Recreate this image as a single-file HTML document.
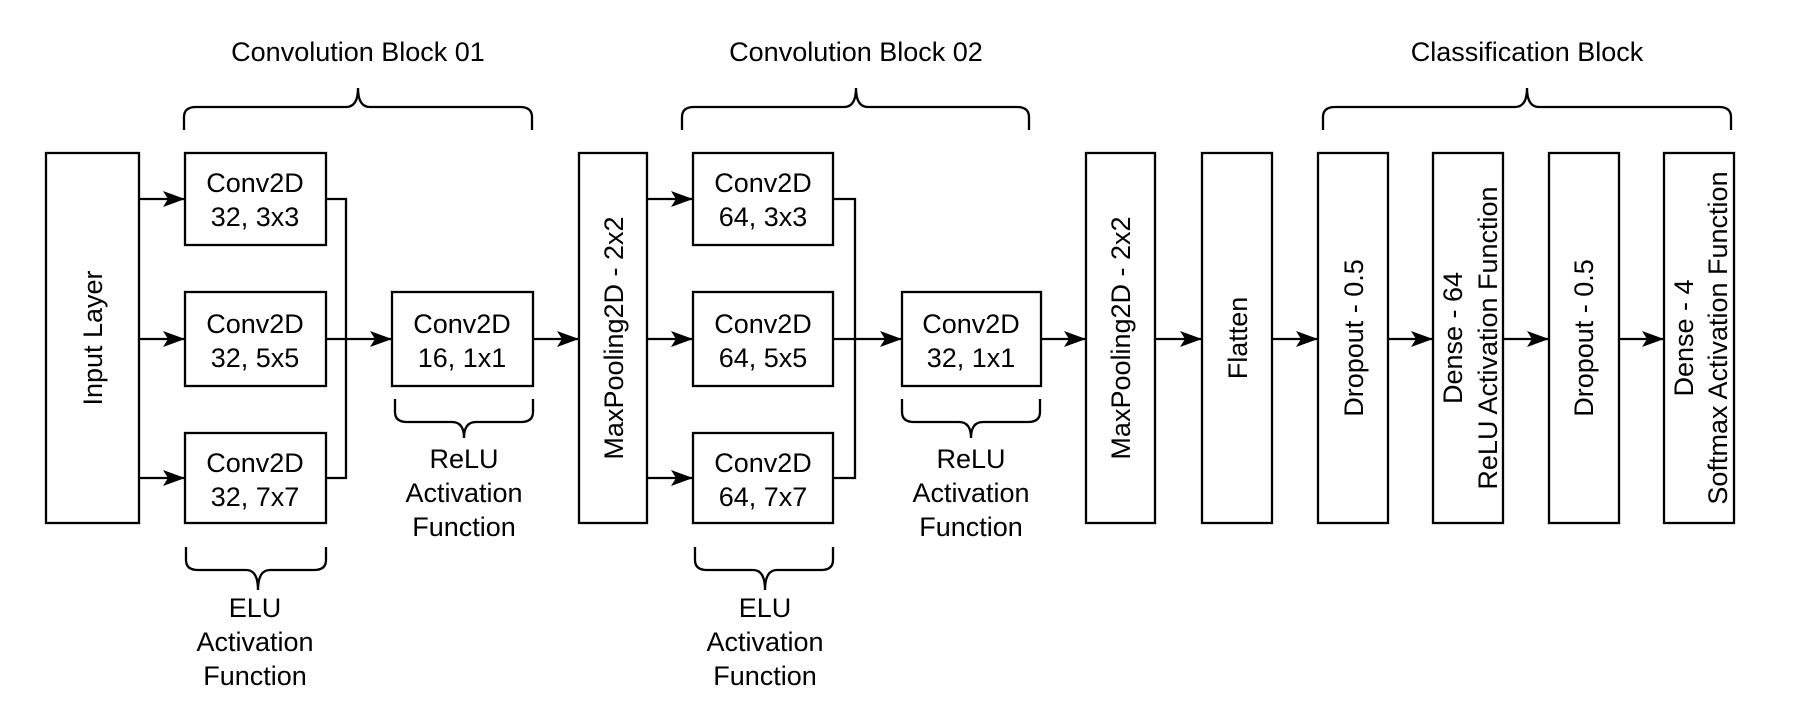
<!DOCTYPE html>
<html><head><meta charset="utf-8"><style>
html,body{margin:0;padding:0;background:#fff;}
svg{display:block;}
text{font-family:"Liberation Sans",Arial,sans-serif;fill:#000;}
</style></head><body>
<svg width="1797" height="707" viewBox="0 0 1797 707" xmlns="http://www.w3.org/2000/svg">
<defs>
<marker id="a" markerWidth="22" markerHeight="18" refX="21" refY="9" orient="auto" markerUnits="userSpaceOnUse" viewBox="0 0 22 18">
<path d="M0,1 L22,9 L0,17 L5,9 Z" fill="#000"/>
</marker>
</defs>
<g fill="none" stroke="#000" stroke-width="2.3">
<rect x="46" y="153" width="93" height="370"/>
<rect x="185" y="153" width="141" height="92"/>
<rect x="185" y="292" width="141" height="94"/>
<rect x="185" y="433" width="141" height="90"/>
<rect x="392" y="292" width="141" height="94"/>
<rect x="579" y="153" width="68" height="370"/>
<rect x="693" y="153" width="140" height="92"/>
<rect x="693" y="292" width="140" height="94"/>
<rect x="693" y="433" width="140" height="90"/>
<rect x="902" y="292" width="139" height="94"/>
<rect x="1086" y="153" width="69" height="370"/>
<rect x="1202" y="153" width="70" height="370"/>
<rect x="1318" y="153" width="70" height="370"/>
<rect x="1433" y="153" width="70" height="370"/>
<rect x="1549" y="153" width="70" height="370"/>
<rect x="1664" y="153" width="70" height="370"/>
<path d="M139,199 H184" marker-end="url(#a)"/>
<path d="M139,339 H184" marker-end="url(#a)"/>
<path d="M139,478 H184" marker-end="url(#a)"/>
<path d="M326,199 H346 V478 H326"/>
<path d="M326,339 H391" marker-end="url(#a)"/>
<path d="M533,339 H578" marker-end="url(#a)"/>
<path d="M647,199 H692" marker-end="url(#a)"/>
<path d="M647,339 H692" marker-end="url(#a)"/>
<path d="M647,478 H692" marker-end="url(#a)"/>
<path d="M833,199 H855 V478 H833"/>
<path d="M833,339 H901" marker-end="url(#a)"/>
<path d="M1041,339 H1085" marker-end="url(#a)"/>
<path d="M1155,339 H1201" marker-end="url(#a)"/>
<path d="M1272,339 H1317" marker-end="url(#a)"/>
<path d="M1388,339 H1432" marker-end="url(#a)"/>
<path d="M1503,339 H1548" marker-end="url(#a)"/>
<path d="M1619,339 H1663" marker-end="url(#a)"/>
<path d="M184,130 V117 Q184,107 196,107 H346 Q358,107 358,88 Q358,107 370,107 H520 Q532,107 532,117 V130"/>
<path d="M682,130 V117 Q682,107 694,107 H844 Q856,107 856,88 Q856,107 868,107 H1017 Q1029,107 1029,117 V130"/>
<path d="M1323,130 V117 Q1323,107 1335,107 H1515 Q1527,107 1527,88 Q1527,107 1539,107 H1719 Q1731,107 1731,117 V130"/>
<path d="M186,547 V560 Q186,570 198,570 H246 Q258,570 258,590 Q258,570 270,570 H314 Q326,570 326,560 V547"/>
<path d="M395,399 V412 Q395,422 407,422 H452 Q464,422 464,438 Q464,422 476,422 H521 Q533,422 533,412 V399"/>
<path d="M695,547 V560 Q695,570 707,570 H753 Q765,570 765,590 Q765,570 777,570 H821 Q833,570 833,560 V547"/>
<path d="M902,399 V412 Q902,422 914,422 H959 Q971,422 971,438 Q971,422 983,422 H1028 Q1040,422 1040,412 V399"/>
</g>
<g font-size="27" text-anchor="middle">
<text x="358" y="61">Convolution Block 01</text>
<text x="856" y="61">Convolution Block 02</text>
<text x="1527" y="61">Classification Block</text>
</g>
<g font-size="27" text-anchor="middle">
<text x="255" y="192">Conv2D</text><text x="255" y="226">32, 3x3</text>
<text x="255" y="333">Conv2D</text><text x="255" y="367">32, 5x5</text>
<text x="255" y="472">Conv2D</text><text x="255" y="506">32, 7x7</text>
<text x="462" y="333">Conv2D</text><text x="462" y="367">16, 1x1</text>
<text x="763" y="192">Conv2D</text><text x="763" y="226">64, 3x3</text>
<text x="763" y="333">Conv2D</text><text x="763" y="367">64, 5x5</text>
<text x="763" y="472">Conv2D</text><text x="763" y="506">64, 7x7</text>
<text x="971" y="333">Conv2D</text><text x="971" y="367">32, 1x1</text>
<text x="464" y="468">ReLU</text><text x="464" y="502">Activation</text><text x="464" y="536">Function</text>
<text x="971" y="468">ReLU</text><text x="971" y="502">Activation</text><text x="971" y="536">Function</text>
<text x="255" y="617">ELU</text><text x="255" y="651">Activation</text><text x="255" y="685">Function</text>
<text x="765" y="617">ELU</text><text x="765" y="651">Activation</text><text x="765" y="685">Function</text>
<text transform="translate(102,338) rotate(-90)">Input Layer</text>
<text transform="translate(623,338) rotate(-90)">MaxPooling2D - 2x2</text>
<text transform="translate(1130,338) rotate(-90)">MaxPooling2D - 2x2</text>
<text transform="translate(1247,338) rotate(-90)">Flatten</text>
<text transform="translate(1363,338) rotate(-90)">Dropout - 0.5</text>
<text transform="translate(1462,338) rotate(-90)">Dense - 64</text>
<text transform="translate(1497,338) rotate(-90)">ReLU Activation Function</text>
<text transform="translate(1593,338) rotate(-90)">Dropout - 0.5</text>
<text transform="translate(1693,338) rotate(-90)">Dense - 4</text>
<text transform="translate(1727,338) rotate(-90)">Softmax Activation Function</text>
</g>
</svg>
</body></html>
